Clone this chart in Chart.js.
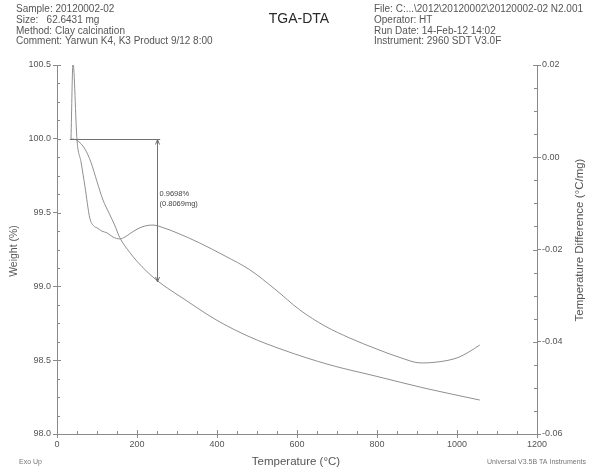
<!DOCTYPE html>
<html><head><meta charset="utf-8">
<script src="https://cdn.jsdelivr.net/npm/chart.js@4.4.1/dist/chart.umd.min.js"></script>
<style>html,body{margin:0;padding:0;background:#fff;} #wrap{position:relative;width:592px;height:469px;}</style>
</head><body><div id="wrap"><canvas id="c" width="592" height="469"></canvas></div>
<script>
// ---- data ----
const tgaTemp   = [35, 50, 70, 85, 100, 115, 130, 145, 157, 182, 200, 225, 250, 320, 400, 480, 565, 680, 800, 920, 1057];
const tgaWeight = [100.00, 99.99, 99.93, 99.84, 99.71, 99.585, 99.497, 99.41, 99.33, 99.23, 99.17, 99.10, 99.04, 98.91, 98.77, 98.66, 98.57, 98.47, 98.39, 98.31, 98.23];
const dtaTemp = [35, 40, 50, 60, 70, 82, 92, 100, 112, 125, 140, 157, 170, 185, 200, 220, 240, 260, 300, 357, 420, 482, 545, 607, 670, 732, 800, 860, 910, 950, 1000, 1030, 1057];
const dtaDiff = [0.0040, 0.0205, 0.0037, -0.0010, -0.0064, -0.0132, -0.0149, -0.0153, -0.0160, -0.0164, -0.0173, -0.0177, -0.0173, -0.0164, -0.0156, -0.0149, -0.0147, -0.0151, -0.0164, -0.0186, -0.0214, -0.0244, -0.0286, -0.0331, -0.0366, -0.0392, -0.0416, -0.0435, -0.0446, -0.0444, -0.0435, -0.0422, -0.0407];
const xTicks  = [0, 200, 400, 600, 800, 1000, 1200];
const yTicks  = [98.0, 98.5, 99.0, 99.5, 100.0, 100.5];
const y1Ticks = [-0.06, -0.04, -0.02, 0.00, 0.02];
const stepTempStart = 32, stepTempEnd = 258, stepTemp = 250;
const stepWeightTop = 100.0, stepWeightBottom = 99.03;
const stepLabels = ["0.9698%", "(0.8069mg)"];
const headerLeft = ["Sample: 20120002-02", "Size:   62.6431 mg", "Method: Clay calcination", "Comment: Yarwun K4, K3 Product 9/12 8:00"];
const headerRight = ["File: C:...\\2012\\20120002\\20120002-02 N2.001", "Operator: HT", "Run Date: 14-Feb-12 14:02", "Instrument: 2960 SDT V3.0F"];
const titleText = "TGA-DTA";
const xTitle = "Temperature (\u00B0C)";
const yTitle = "Weight (%)";
const y1Title = "Temperature Difference (\u00B0C/mg)";
const footLeft = "Exo Up";
const footRight = "Universal V3.5B TA Instruments";

// ---- styles ----
const FONT = "'Liberation Sans', Arial, sans-serif";
const LINE = '#8f8f8f';
const AXIS = '#8a8a8a';
const TXT = '#555555';

const decor = {
  id: 'decor',
  afterDraw(chart) {
    const ctx = chart.ctx;
    const xs = chart.scales.x, ys = chart.scales.y, y1 = chart.scales.y1;
    const ca = chart.chartArea;
    ctx.save();
    ctx.strokeStyle = AXIS; ctx.lineWidth = 1;
    // minor and inward major ticks
    ctx.beginPath();
    for (let i = 0; i < xTicks.length; i++) {
      const px = Math.round(xs.getPixelForValue(xTicks[i])) + 0.5;
      ctx.moveTo(px, ca.bottom); ctx.lineTo(px, ca.bottom - 4);
      if (i < xTicks.length - 1) {
        for (let k = 1; k < 4; k++) {
          const v = xTicks[i] + (xTicks[i+1] - xTicks[i]) * k / 4;
          const p = Math.round(xs.getPixelForValue(v)) + 0.5;
          ctx.moveTo(p, ca.bottom); ctx.lineTo(p, ca.bottom - 3);
        }
      }
    }
    for (let i = 0; i < yTicks.length; i++) {
      const py = Math.round(ys.getPixelForValue(yTicks[i])) + 0.5;
      ctx.moveTo(ca.left, py); ctx.lineTo(ca.left + 4, py);
      if (i < yTicks.length - 1) {
        for (let k = 1; k < 4; k++) {
          const v = yTicks[i] + (yTicks[i+1] - yTicks[i]) * k / 4;
          const p = Math.round(ys.getPixelForValue(v)) + 0.5;
          ctx.moveTo(ca.left, p); ctx.lineTo(ca.left + 3, p);
        }
      }
    }
    for (let i = 0; i < y1Ticks.length; i++) {
      const py = Math.round(y1.getPixelForValue(y1Ticks[i])) + 0.5;
      ctx.moveTo(ca.right, py); ctx.lineTo(ca.right - 4, py);
      if (i < y1Ticks.length - 1) {
        for (let k = 1; k < 4; k++) {
          const v = y1Ticks[i] + (y1Ticks[i+1] - y1Ticks[i]) * k / 4;
          const p = Math.round(y1.getPixelForValue(v)) + 0.5;
          ctx.moveTo(ca.right, p); ctx.lineTo(ca.right - 3, p);
        }
      }
    }
    ctx.stroke();

    // step annotation
    ctx.strokeStyle = '#707070';
    const hx0 = xs.getPixelForValue(stepTempStart), hx1 = xs.getPixelForValue(stepTempEnd);
    const hy = Math.round(ys.getPixelForValue(stepWeightTop)) + 0.5;
    const vx = Math.round(xs.getPixelForValue(stepTemp)) + 0.5;
    const vy1 = ys.getPixelForValue(stepWeightBottom);
    ctx.beginPath();
    ctx.moveTo(hx0, hy); ctx.lineTo(hx1, hy);
    ctx.moveTo(vx, hy); ctx.lineTo(vx, vy1);
    ctx.moveTo(vx - 2, hy + 5); ctx.lineTo(vx, hy); ctx.lineTo(vx + 2, hy + 5);
    ctx.moveTo(vx - 2, vy1 - 5); ctx.lineTo(vx, vy1); ctx.lineTo(vx + 2, vy1 - 5);
    ctx.stroke();
    ctx.fillStyle = '#444';
    ctx.font = '7.5px ' + FONT;
    ctx.textAlign = 'left'; ctx.textBaseline = 'middle';
    const midY = (hy + vy1) / 2;
    ctx.fillText(stepLabels[0], vx + 2, midY - 17);
    ctx.fillText(stepLabels[1], vx + 2, midY - 7);

    // header
    ctx.fillStyle = TXT;
    ctx.font = '10px ' + FONT;
    ctx.textBaseline = 'middle';
    const hdrY = [9.5, 20.2, 30.9, 41.6];
    headerLeft.forEach((t, i) => ctx.fillText(t, 16, hdrY[i]));
    headerRight.forEach((t, i) => ctx.fillText(t, 374, hdrY[i]));
    ctx.font = '14px ' + FONT;
    ctx.textAlign = 'center';
    ctx.fillStyle = '#2a2a2a';
    ctx.fillText(titleText, 299, 19);

    // axis titles
    ctx.fillStyle = TXT;
    ctx.font = '11.5px ' + FONT;
    ctx.fillText(xTitle, (ca.left + ca.right) / 2 - 1, 462);
    ctx.save();
    ctx.translate(14, 251);
    ctx.rotate(-Math.PI / 2);
    ctx.font = '10.5px ' + FONT;
    ctx.fillText(yTitle, 0, 0);
    ctx.restore();
    ctx.save();
    ctx.translate(580, 240);
    ctx.rotate(-Math.PI / 2);
    ctx.font = '11.5px ' + FONT;
    ctx.fillText(y1Title, 0, 0);
    ctx.restore();

    // footers
    ctx.font = '7px ' + FONT;
    ctx.fillStyle = '#777';
    ctx.textAlign = 'left';
    ctx.fillText(footLeft, 19, 462);
    ctx.textAlign = 'right';
    ctx.fillText(footRight, 586, 462);
    ctx.restore();
  }
};

const tickFont = { family: FONT, size: 9 };
new Chart(document.getElementById('c'), {
  type: 'line',
  data: {
    datasets: [
      { label: 'Weight', data: tgaTemp.map((t, i) => ({ x: t, y: tgaWeight[i] })), yAxisID: 'y',
        borderColor: LINE, borderWidth: 1, pointRadius: 0, fill: false, cubicInterpolationMode: 'monotone' },
      { label: 'Temperature Difference', data: dtaTemp.map((t, i) => ({ x: t, y: dtaDiff[i] })), yAxisID: 'y1',
        borderColor: LINE, borderWidth: 1, pointRadius: 0, fill: false, cubicInterpolationMode: 'monotone' }
    ]
  },
  options: {
    responsive: false, animation: false, events: [],
    layout: { padding: { top: 65, left: 0, right: 0, bottom: 0 } },
    plugins: { legend: { display: false }, tooltip: { enabled: false } },
    scales: {
      x: {
        type: 'linear', min: 0, max: 1200,
        afterBuildTicks: s => { s.ticks = xTicks.map(v => ({ value: v })); },
        afterFit: s => { s.height = 35; },
        grid: { display: true, drawOnChartArea: false, drawTicks: true, tickLength: 4, color: AXIS },
        border: { display: true, color: AXIS },
        ticks: { font: tickFont, color: TXT, padding: 1, maxRotation: 0, autoSkip: false, callback: v => String(v) }
      },
      y: {
        type: 'linear', position: 'left', min: 98, max: 100.5,
        afterBuildTicks: s => { s.ticks = yTicks.map(v => ({ value: v })); },
        afterFit: s => { s.width = 57; },
        grid: { display: true, drawOnChartArea: false, drawTicks: true, tickLength: 4, color: AXIS },
        border: { display: true, color: AXIS },
        ticks: { font: tickFont, color: TXT, padding: 2, autoSkip: false, callback: v => Number(v).toFixed(1) }
      },
      y1: {
        type: 'linear', position: 'right', min: -0.06, max: 0.02,
        afterBuildTicks: s => { s.ticks = y1Ticks.map(v => ({ value: v })); },
        afterFit: s => { s.width = 55; },
        grid: { display: true, drawOnChartArea: false, drawTicks: true, tickLength: 4, color: AXIS },
        border: { display: true, color: AXIS },
        ticks: { font: tickFont, color: TXT, padding: 1, autoSkip: false, callback: v => Number(v).toFixed(2) }
      }
    }
  },
  plugins: [decor]
});
</script></body></html>
